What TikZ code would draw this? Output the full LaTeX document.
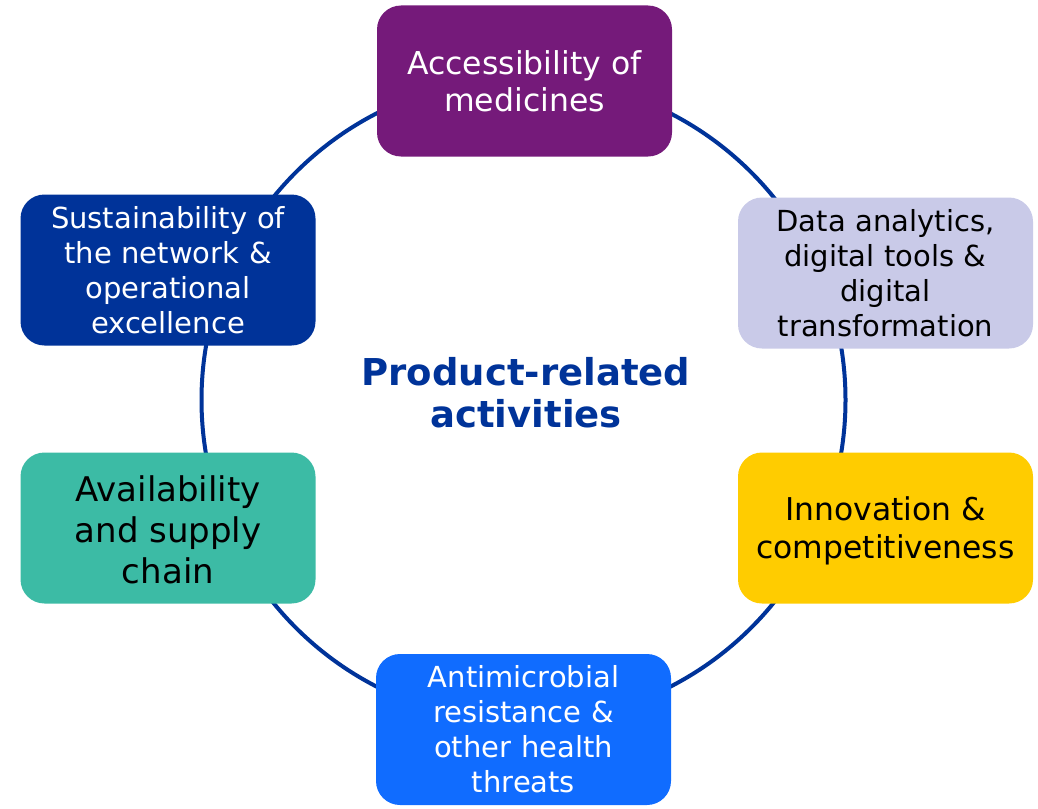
\documentclass[tikz,border=0pt]{standalone}
\usepackage{fontspec}
\setmainfont{DejaVu Sans}
\definecolor{ringblue}{HTML}{003399}
\definecolor{cpurple}{HTML}{751A7A}
\definecolor{clav}{HTML}{C9CAE8}
\definecolor{cyellow}{HTML}{FFCC00}
\definecolor{cblue}{HTML}{106CFF}
\definecolor{cteal}{HTML}{3CBBA5}
\definecolor{cdark}{HTML}{003399}
\begin{document}
\begin{tikzpicture}[x=1pt,y=-1pt,
  box/.style={draw=none, rounded corners=24pt, minimum width=295pt, minimum height=151pt,
    align=center, inner sep=0pt, text width=290pt},
  ring/.style={draw=ringblue, line width=4pt},
  fsA/.style={font=\fontsize{31.5}{37}\selectfont},
  fsB/.style={font=\fontsize{29}{35}\selectfont},
  fsC/.style={font=\fontsize{34}{41}\selectfont},
  fsD/.style={font=\fontsize{31.4}{38}\selectfont}]
\useasboundingbox (0,0) rectangle (1038,808);
\coordinate (c) at (523.5,400);
\draw[ring] (c) circle[radius=322pt];
\node[box, fill=cpurple, text=white, fsA] (acc) at (524.5,81) {Accessibility of\\medicines};
\node[box, fill=clav, text=black, fsB] (data) at (885.5,273) {Data analytics,\\digital tools \&\\digital\\transformation};
\node[box, fill=cyellow] (inno) at (885.5,528) {};
\node[align=center, text=black, fsD, inner sep=0pt] (innotext) at ([yshift=-3pt]inno.center) {Innovation \&\\competitiveness};
\node[box, fill=cblue, text=white, fsB] (amr) at (523.5,729.5) {Antimicrobial\\resistance \&\\other health\\threats};
\node[box, fill=cteal] (avail) at (168,528) {};
\node[align=center, text=black, fsC, inner sep=0pt] (availtext) at ([yshift=-2pt]avail.center) {Availability\\and supply\\chain};
\node[box, fill=cdark, text=white, fsB] (sust) at (168,270) {Sustainability of\\the network \&\\operational\\excellence};
\node[align=center, text=ringblue, font=\fontsize{37}{42}\selectfont\bfseries] (title) at (526,393) {Product-related\\activities};
\end{tikzpicture}
\end{document}
